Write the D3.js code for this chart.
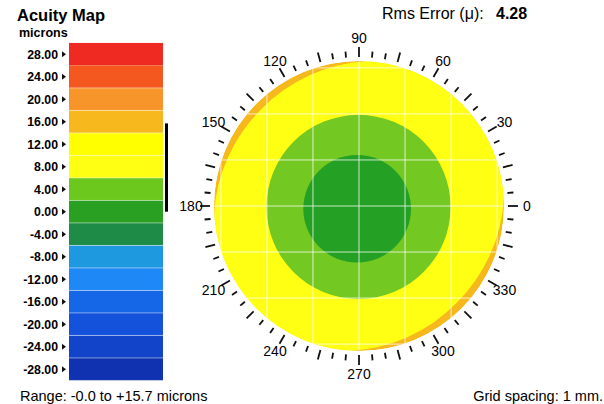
<!DOCTYPE html>
<html><head><meta charset="utf-8">
<script src="https://cdn.jsdelivr.net/npm/d3@7"></script>
<style>
html,body{margin:0;padding:0;background:#fff;}
svg{display:block;font-family:"Liberation Sans",Arial,sans-serif;}
</style></head>
<body>
<svg id="c" width="604" height="404"></svg>
<script>
// ---- data ----
const legendValues = [28, 24, 20, 16, 12, 8, 4, 0, -4, -8, -12, -16, -20, -24, -28];
const legendLabels = ["28.00","24.00","20.00","16.00","12.00","8.00","4.00","0.00","-4.00","-8.00","-12.00","-16.00","-20.00","-24.00","-28.00"];
const legendColors = ["#ee2a22","#f4581e","#f7942a","#f6b81c","#ffff00","#ffff14","#6cc81c","#2aa022","#1e8c46","#1e98de","#1e88f6","#1666e8","#1452dc","#1244ca","#1032b0"];
const rangeMin = 0.0, rangeMax = 15.7;
const rmsError = "4.28";
// contour zones: value, radius (mm), centre offset (mm)
const zoneValues = [8, 4, 0];
const zoneRadii = [3.15, 2.0, 1.17];
const zoneDx = [0, -0.01, -0.04];
const zoneDy = [0, -0.02, -0.06];
// outer rim (16-20 band) shows where the 8-zone is an ellipse narrower along 135°
const rimValue = 16, rimMajor = 3.3, rimMinor = 2.99, rimAxisDeg = 45;
const gridMm = [-3, -2, -1, 0, 1, 2, 3];
const angleTicks = d3.range(0, 360, 5);
const angleLabels = [0, 30, 60, 90, 120, 150, 180, 210, 240, 270, 300, 330];

const svg = d3.select("#c");
const colorOf = d3.scaleOrdinal().domain(legendValues).range(legendColors);

// ---- titles ----
svg.append("text").attr("x", 17).attr("y", 21).attr("font-size", 16.5).attr("font-weight", "bold").text("Acuity Map");
svg.append("text").attr("x", 19).attr("y", 37).attr("font-size", 12.5).attr("font-weight", "bold").text("microns");

// ---- legend ----
const ly = d3.scaleLinear().domain([-28, 28]).range([369.2, 54.2]);
const bandH = Math.abs(ly(4) - ly(0));
const lg = svg.append("g");
lg.selectAll("rect").data(legendValues).join("rect")
  .attr("x", 69).attr("width", 94)
  .attr("y", d => ly(d) - bandH / 2).attr("height", bandH)
  .attr("fill", d => colorOf(d));
lg.selectAll("line.sep").data(legendValues.slice(1)).join("line").attr("class","sep")
  .attr("x1", 69).attr("x2", 163)
  .attr("y1", d => ly(d) + bandH / 2).attr("y2", d => ly(d) + bandH / 2)
  .attr("stroke", "#fff").attr("stroke-opacity", 0.45).attr("stroke-width", 1);
lg.selectAll("text").data(legendValues).join("text")
  .attr("x", 58).attr("y", d => ly(d) + 4.5)
  .attr("text-anchor", "end").attr("font-size", 12.3).attr("font-weight", "bold")
  .text((d, i) => legendLabels[i]);
lg.selectAll("path.tri").data(legendValues).join("path").attr("class","tri")
  .attr("d", d => `M62,${ly(d)-3}L66,${ly(d)}L62,${ly(d)+3}Z`).attr("fill", "#111");
// range bar
svg.append("line").attr("x1", 166.5).attr("x2", 166.5)
  .attr("y1", ly(rangeMax)).attr("y2", ly(rangeMin))
  .attr("stroke", "#000").attr("stroke-width", 3);

// ---- polar map ----
const cx = 359, cy = 206, R = 145;
const mm = d3.scaleLinear().domain([0, zoneRadii[0]]).range([0, R]);
const g = svg.append("g").attr("transform", `translate(${cx},${cy})`);
svg.append("defs").append("clipPath").attr("id", "disk")
  .append("circle").attr("cx", 0).attr("cy", 0).attr("r", R);
const mapG = g.append("g").attr("clip-path", "url(#disk)");
mapG.append("circle").attr("r", R).attr("fill", colorOf(rimValue));
mapG.append("ellipse").attr("rx", mm(rimMajor)).attr("ry", mm(rimMinor))
  .attr("transform", `rotate(${-rimAxisDeg})`).attr("fill", colorOf(zoneValues[0]));
mapG.selectAll("circle.zone").data(zoneValues.slice(1)).join("circle").attr("class","zone")
  .attr("cx", (d, i) => mm(zoneDx[i + 1])).attr("cy", (d, i) => -mm(zoneDy[i + 1]))
  .attr("r", (d, i) => mm(zoneRadii[i + 1]))
  .attr("fill", d => d === 4 ? "#74c822" : "#24a024");
// grid
mapG.selectAll("line.gv").data(gridMm).join("line").attr("class","gv")
  .attr("x1", d => mm(d)).attr("x2", d => mm(d)).attr("y1", -R).attr("y2", R)
  .attr("stroke", "#fff").attr("stroke-opacity", 0.75).attr("stroke-width", 1);
mapG.selectAll("line.gh").data(gridMm).join("line").attr("class","gh")
  .attr("y1", d => mm(d)).attr("y2", d => mm(d)).attr("x1", -R).attr("x2", R)
  .attr("stroke", "#fff").attr("stroke-opacity", 0.75).attr("stroke-width", 1);
// angle ticks
const rad = d => d * Math.PI / 180;
g.selectAll("line.tk").data(angleTicks).join("line").attr("class","tk")
  .attr("x1", d => 149 * Math.cos(rad(d))).attr("y1", d => -149 * Math.sin(rad(d)))
  .attr("x2", d => (d % 15 === 0 ? 159 : 155) * Math.cos(rad(d)))
  .attr("y2", d => -(d % 15 === 0 ? 159 : 155) * Math.sin(rad(d)))
  .attr("stroke", "#111").attr("stroke-width", 1.8);
g.selectAll("text.al").data(angleLabels).join("text").attr("class","al")
  .attr("x", d => 168 * Math.cos(rad(d))).attr("y", d => -168 * Math.sin(rad(d)))
  .attr("text-anchor", "middle").attr("dominant-baseline", "central")
  .attr("font-size", 14).text(d => d);

// ---- headers / footers ----
svg.append("text").attr("x", 382).attr("y", 18.5).attr("font-size", 16).text("Rms Error (μ):");
svg.append("text").attr("x", 496).attr("y", 18.5).attr("font-size", 16).attr("font-weight", "bold").text(rmsError);
svg.append("text").attr("x", 20).attr("y", 401).attr("font-size", 14.5)
  .text(`Range: -${rangeMin.toFixed(1)} to +${rangeMax.toFixed(1)} microns`);
svg.append("text").attr("x", 603).attr("y", 401).attr("font-size", 14.5).attr("text-anchor", "end")
  .text("Grid spacing: 1 mm.");
</script>
</body></html>
